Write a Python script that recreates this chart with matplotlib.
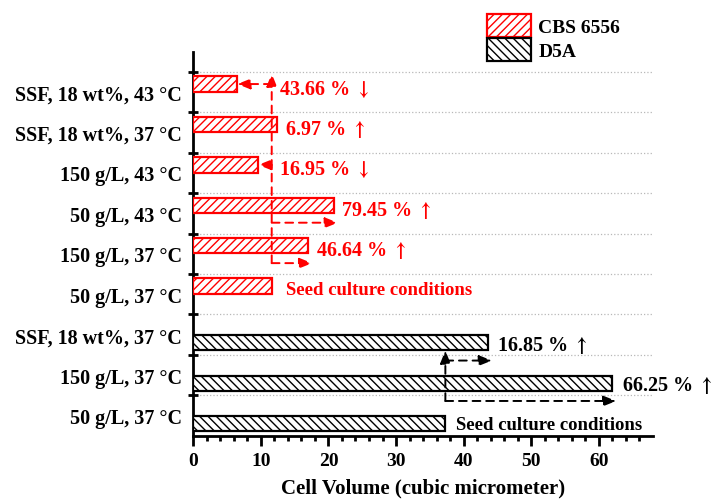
import numpy as np
import matplotlib.pyplot as plt
from matplotlib.patches import Patch

plt.rcParams['font.family'] = ['Liberation Serif', 'DejaVu Serif']
plt.rcParams['font.weight'] = 'bold'
plt.rcParams['axes.labelweight'] = 'bold'
plt.rcParams['mathtext.fontset'] = 'stix'

# categories listed bottom -> top
categories = ["50 g/L, 37 °C", "150 g/L, 37 °C", "SSF, 18 wt%, 37 °C",
              "50 g/L, 37 °C", "150 g/L, 37 °C", "50 g/L, 43 °C",
              "150 g/L, 43 °C", "SSF, 18 wt%, 37 °C", "SSF, 18 wt%, 43 °C"]
cbs_6556 = [np.nan, np.nan, np.nan, 11.6, 17.0, 20.8, 9.6, 12.4, 6.5]
d5a = [37.3, 62.0, 43.6, np.nan, np.nan, np.nan, np.nan, np.nan, np.nan]
# percent change vs seed culture (0 = seed culture itself)
cbs_change = [np.nan, np.nan, np.nan, 0, 46.64, 79.45, -16.95, 6.97, -43.66]
d5a_change = [0, 66.25, 16.85, np.nan, np.nan, np.nan, np.nan, np.nan, np.nan]

y = np.arange(len(categories))
cbs_v = np.array(cbs_6556)
d5a_v = np.array(d5a)

fig = plt.figure(figsize=(7.15, 5.02), dpi=100)
ax = fig.add_axes([0.2704, 0.130, 0.6426, 0.765])

m = ~np.isnan(cbs_v)
ax.barh(y[m] + 0.2, cbs_v[m], height=0.38, color='white', edgecolor='red',
        hatch='////', lw=1.6, zorder=3)
m = ~np.isnan(d5a_v)
ax.barh(y[m] - 0.2, d5a_v[m], height=0.38, color='white', edgecolor='black',
        hatch='\\\\\\\\', lw=1.6, zorder=3)


def arrow(x0, y0, x1, y1, color):
    ax.annotate('', xy=(x1, y1), xytext=(x0, y0), zorder=4,
                arrowprops=dict(arrowstyle='-|>,head_length=0.55,head_width=0.22',
                                color=color, lw=1.4, linestyle=(0, (4, 3)),
                                shrinkA=0, shrinkB=0, mutation_scale=14))


def label(c):
    if c == 0:
        return "Seed culture conditions"
    return f"{abs(c):.2f} % " + (r"$\uparrow$" if c > 0 else r"$\downarrow$")


# CBS 6556 annotations
seed = cbs_v[np.array(cbs_change) == 0][0]
low = None
for i, (v, c) in enumerate(zip(cbs_v, cbs_change)):
    if np.isnan(c):
        continue
    if c < 0:
        arrow(seed, i + 0.2, v, i + 0.2, 'red')
    elif c > 10:
        arrow(seed, i - 0.23, v + 0.6, i - 0.23, 'red')
        low = i - 0.23 if low is None else min(low, i - 0.23)
    if c == 0:
        ax.text(v + 2.1, i + 0.13, label(c), color='red', fontsize=13.5,
                va='center', ha='left', zorder=5)
    else:
        ax.text(max(v, seed) + 1.1, i + 0.1, label(c), color='red', fontsize=14.5,
                va='center', ha='left', zorder=5)
arrow(seed, low, seed, len(categories) - 0.54, 'red')

# D5A annotations
seed = d5a_v[np.array(d5a_change) == 0][0]
low, top = None, None
for i, (v, c) in enumerate(zip(d5a_v, d5a_change)):
    if np.isnan(c):
        continue
    if c > 10:
        arrow(seed, i - 0.64, v + 0.6, i - 0.64, 'black')
        low = i - 0.64 if low is None else min(low, i - 0.64)
        top = i - 0.39 if top is None else max(top, i - 0.39)
    if c == 0:
        ax.text(v + 1.6, i - 0.21, label(c), color='black', fontsize=13.5,
                va='center', ha='left', zorder=5)
    else:
        ax.text(v + 1.4, i - 0.24, label(c), color='black', fontsize=14.5,
                va='center', ha='left', zorder=5)
arrow(seed, low, seed, top, 'black')

ax.set_xlim(0, 68)
ax.set_ylim(-0.5, len(categories))
ax.set_xticks(np.arange(0, 61, 10))
ax.set_xticks(np.arange(0, 68, 2), minor=True)
ax.set_yticks(np.arange(len(categories)) + 0.5)
ax.set_yticklabels([])
ax.set_yticks(y, minor=True)
ax.set_yticklabels(categories, minor=True)

for s in ['top', 'right']:
    ax.spines[s].set_visible(False)
for s in ['left', 'bottom']:
    ax.spines[s].set_linewidth(2)

ax.tick_params(axis='x', which='major', direction='out', length=7, width=2,
               labelsize=14, pad=5)
ax.tick_params(axis='x', which='minor', direction='out', length=3.5, width=2)
ax.tick_params(axis='y', which='major', direction='inout', length=7, width=2)
ax.tick_params(axis='y', which='minor', length=0, labelsize=14.5, pad=8)
ax.grid(axis='y', which='major', color='#b8b8b8', linestyle=':', lw=0.9, zorder=0)

ax.set_xlabel("Cell Volume (cubic micrometer)", fontsize=15, fontweight='bold',
              labelpad=6)

handles = [Patch(facecolor='white', edgecolor='red', hatch='////', lw=1.6, label='CBS 6556'),
           Patch(facecolor='white', edgecolor='black', hatch='\\\\\\\\', lw=1.6, label='D5A')]
fig.legend(handles=handles, loc='upper left', bbox_to_anchor=(0.667, 0.99),
           frameon=False, borderpad=0, handlelength=2.3, handleheight=1.45,
           labelspacing=0.05, handletextpad=0.35, prop=dict(size=14, weight='bold'))

fig.savefig('out.png', dpi=100)
